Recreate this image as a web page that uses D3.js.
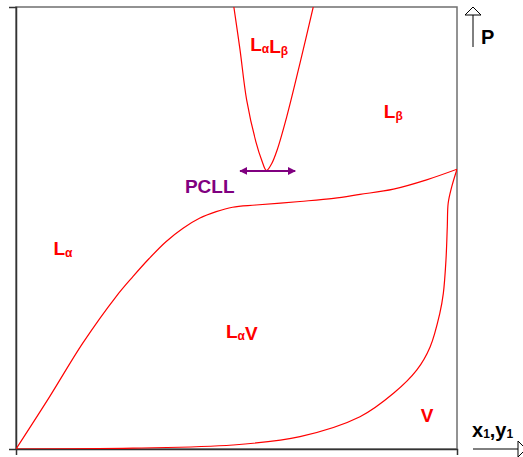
<!DOCTYPE html>
<html>
<head>
<meta charset="utf-8">
<script src="https://cdn.jsdelivr.net/npm/d3@7"></script>
<style>
  body { margin: 0; background: #fff; }
  svg { display: block; font-family: "Liberation Sans", Arial, sans-serif; font-weight: bold; }
</style>
</head>
<body>
<svg id="chart"></svg>
<script>
// bubble curve (L-alpha / L-alpha V boundary), x1 vs P, both 0..1
var bubbleX = [0, 0.076, 0.151, 0.227, 0.265, 0.302, 0.340, 0.378, 0.416, 0.454, 0.491, 0.544, 0.644, 0.720, 0.780, 0.856, 0.931, 1.0]
var bubbleP = [0, 0.118, 0.239, 0.345, 0.390, 0.431, 0.469, 0.499, 0.522, 0.537, 0.547, 0.552, 0.560, 0.567, 0.576, 0.588, 0.609, 0.633]

// dew curve (V boundary), y1 vs P
var dewX = [0, 0.265, 0.492, 0.644, 0.780, 0.856, 0.909, 0.939, 0.961, 0.969, 0.975, 0.978, 0.980, 0.988, 1.0]
var dewP = [0, 0.002, 0.009, 0.028, 0.073, 0.126, 0.179, 0.231, 0.307, 0.352, 0.428, 0.503, 0.556, 0.593, 0.633]

// liquid-liquid immiscibility region
var llX = [0.494, 0.508, 0.523, 0.544, 0.557, 0.568, 0.580, 0.592, 0.614, 0.644, 0.674]
var llP = [1.0, 0.903, 0.790, 0.695, 0.654, 0.630, 0.646, 0.676, 0.752, 0.873, 1.0]

// PCLL (lower critical pressure of LL) double arrow
var pcllX = [0.508, 0.633]
var pcllP = 0.629

// region labels: [main, sub] pairs, in data units
var labelNames = [[["L", "α"], ["L", "β"]], [["L", "β"]], [["L", "α"]], [["L", "α"], ["V", ""]], [["V", ""]]]
var labelX = [0.531, 0.834, 0.085, 0.476, 0.918]
var labelP = [0.900, 0.749, 0.440, 0.251, 0.062]

var width = 523, height = 457
var svg = d3.select('#chart').attr('width', width).attr('height', height)

var x = d3.scaleLinear().domain([0, 1]).range([16, 457])
var y = d3.scaleLinear().domain([0, 1]).range([449, 7])

// frame
svg.append('rect')
    .attr('x', x(0)).attr('y', y(1))
    .attr('width', x(1) - x(0)).attr('height', y(0) - y(1))
    .attr('fill', 'none').attr('stroke', '#6f6f6f').attr('stroke-width', 1.5)

// axes (no tick labels)
svg.append('g').attr('transform', 'translate(' + x(0) + ',0)')
    .call(d3.axisLeft(y).tickValues([]).tickSizeOuter(7))
    .select('.domain').attr('stroke', '#333').attr('stroke-width', 1.5)
svg.append('g').attr('transform', 'translate(0,' + y(0) + ')')
    .call(d3.axisBottom(x).tickValues([]).tickSizeOuter(6))
    .select('.domain').attr('stroke', '#333').attr('stroke-width', 1.5)

// curves
var line = d3.line()
    .x(function(d){ return x(d[0]); })
    .y(function(d){ return y(d[1]); })
    .curve(d3.curveCatmullRom.alpha(0.5))

function pairs(a, b){ return a.map(function(v, i){ return [v, b[i]]; }); }

svg.append('defs').append('clipPath').attr('id', 'box')
    .append('rect').attr('x', x(0)).attr('y', y(1)).attr('width', x(1) - x(0)).attr('height', y(0) - y(1))

var curves = svg.append('g').attr('clip-path', 'url(#box)')
;[pairs(bubbleX, bubbleP), pairs(dewX, dewP), pairs(llX, llP)].forEach(function(c){
    curves.append('path').attr('d', line(c))
        .attr('fill', 'none').attr('stroke', '#ff0000').attr('stroke-width', 1.2)
})

// PCLL arrow
var purple = '#800080'
var defs = svg.select('defs')
defs.append('marker').attr('id', 'ph').attr('viewBox', '0 0 10 10')
    .attr('refX', 9).attr('refY', 5).attr('markerWidth', 4).attr('markerHeight', 4)
    .attr('orient', 'auto-start-reverse')
    .append('path').attr('d', 'M0,0 L10,5 L0,10 z').attr('fill', purple)
svg.append('line')
    .attr('x1', x(pcllX[0])).attr('x2', x(pcllX[1]))
    .attr('y1', y(pcllP)).attr('y2', y(pcllP))
    .attr('stroke', purple).attr('stroke-width', 2)
    .attr('marker-start', 'url(#ph)').attr('marker-end', 'url(#ph)')
svg.append('text').attr('x', x(0.383)).attr('y', y(0.579))
    .attr('fill', purple).attr('font-size', 19).text('PCLL')

// region labels
labelNames.forEach(function(parts, i){
    var t = svg.append('text').attr('x', x(labelX[i])).attr('y', y(labelP[i]))
        .attr('fill', '#ff0000').attr('font-size', 19)
    parts.forEach(function(p){
        t.append('tspan').text(p[0])
        if (p[1]) t.append('tspan').attr('font-size', 12).attr('dy', 2).text(p[1])
        if (p[1]) t.append('tspan').attr('dy', -2).text('')
    })
})

// pressure arrow
var ax = 473
svg.append('line').attr('x1', ax).attr('x2', ax).attr('y1', 47).attr('y2', 15)
    .attr('stroke', '#000').attr('stroke-width', 1)
svg.append('path').attr('d', 'M' + (ax - 8) + ',15 L' + ax + ',7 L' + (ax + 8) + ',15 Z')
    .attr('fill', '#fff').attr('stroke', '#000').attr('stroke-width', 1)
svg.append('text').attr('x', 481).attr('y', 44).attr('font-size', 20).text('P')

// composition arrow
svg.append('line').attr('x1', 473).attr('x2', 518).attr('y1', 449).attr('y2', 449)
    .attr('stroke', '#000').attr('stroke-width', 1)
svg.append('path').attr('d', 'M518,441 L526,449 L518,457 Z')
    .attr('fill', '#fff').attr('stroke', '#000').attr('stroke-width', 1)
var xl = svg.append('text').attr('x', 472).attr('y', 437).attr('font-size', 20)
xl.append('tspan').text('x')
xl.append('tspan').attr('font-size', 12).attr('dy', 1).text('1')
xl.append('tspan').attr('dy', -1).text(',y')
xl.append('tspan').attr('font-size', 12).attr('dy', 1).text('1')
</script>
</body>
</html>
